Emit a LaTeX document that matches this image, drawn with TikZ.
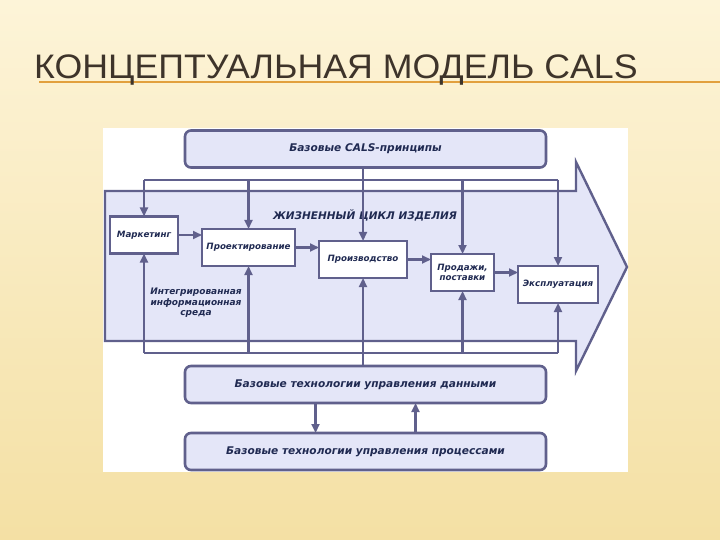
\documentclass[tikz,border=0pt]{standalone}
\usepackage{fontspec}
\usetikzlibrary{positioning,arrows.meta,shapes}
\newfontfamily\headfont{Liberation Sans}
\newfontfamily\diafont{DejaVu Sans}
\definecolor{linecol}{RGB}{96,96,140}
\definecolor{fillcol}{RGB}{228,230,248}
\definecolor{textcol}{RGB}{32,42,82}
\definecolor{headcol}{RGB}{62,52,42}
\definecolor{rulecol}{RGB}{226,160,62}

\begin{document}
\begin{tikzpicture}[x=1pt,y=-1pt,
  base/.style={draw=linecol, line width=2.6pt, outer sep=0pt, text=textcol, align=center,
    font=\diafont\bfseries\itshape\fontsize{10.6}{12}\selectfont},
  block/.style={base, rectangle, rounded corners=6pt, fill=fillcol,
    minimum width=361pt, minimum height=37pt},
  stage/.style={base, rectangle, fill=white, minimum height=37pt, inner sep=2pt,
    font=\diafont\bfseries\itshape\fontsize{8.7}{10.5}\selectfont},
  wire/.style={draw=linecol, line width=2.2pt},
  flow/.style={wire, -{Triangle[length=9pt,width=8pt]}},
  caption/.style={text=textcol, align=center}]
\useasboundingbox (0,0) rectangle (720,540);
\shade[top color={rgb,255:red,253;green,244;blue,216}, bottom color={rgb,255:red,244;green,224;blue,164}]
  (0,0) rectangle (720,540);

% title
\draw[rulecol, line width=1.5pt] (39,82) -- (720,82);
\node[anchor=base west, inner sep=0pt, text=headcol, font=\headfont\fontsize{34}{38}\selectfont]
  (title) at (34,79) {\scalebox{1.05}[1]{КОНЦЕПТУАЛЬНАЯ МОДЕЛЬ CALS}};

\fill[white] (103,128) rectangle (628,472);

% life cycle arrow
\draw[fill=fillcol, draw=linecol, line width=2.4pt, line join=miter]
  (105,191) -- (576,191) -- (576,162) -- (627,267) -- (576,371) -- (576,341) -- (105,341) -- cycle;

\node[block] (cals) at (365.5,149) {Базовые CALS-принципы};
\node[block] (data) at (365.5,384.5) {Базовые технологии управления данными};
\node[block, below=30pt of data] (proc) {Базовые технологии управления процессами};

\node[stage, minimum width=68pt] (mark) at (144,235) {Маркетинг};
\node[stage, minimum width=93pt, right=24pt of mark, yshift=-12.5pt] (proj) {Проектирование};
\node[stage, minimum width=88pt, right=24pt of proj, yshift=-12pt] (prod) {Производство};
\node[stage, minimum width=63pt, right=24pt of prod, yshift=-13pt] (sale) {Продажи,\\поставки};
\node[stage, minimum width=80pt, right=24pt of sale, yshift=-12pt] (expl) {Эксплуатация};

\node[caption, font=\diafont\bfseries\itshape\fontsize{10.5}{12}\selectfont] (cycle) at (365,215)
  {ЖИЗНЕННЫЙ ЦИКЛ ИЗДЕЛИЯ};
\node[caption, font=\diafont\bfseries\itshape\fontsize{9}{10.5}\selectfont] (env) at (196,303)
  {Интегрированная\\информационная\\среда};

\coordinate (bustop) at (0,180);
\coordinate (busbot) at (0,353);

% principles to stages
\draw[flow] (cals.south -| prod.north) -- (prod.north);
\draw[wire] (mark.north |- bustop) -- (expl.north |- bustop);
\foreach \n in {mark,proj,sale,expl}
  \draw[flow] (\n.north |- bustop) -- (\n.north);

% data to stages
\draw[flow] (data.north -| prod.south) -- (prod.south);
\draw[wire] (mark.south |- busbot) -- (expl.south |- busbot);
\foreach \n in {mark,proj,sale,expl}
  \draw[flow] (\n.south |- busbot) -- (\n.south);

% stage order
\draw[flow] (mark.east) -- (mark.east -| proj.west);
\draw[flow] (proj.east) -- (proj.east -| prod.west);
\draw[flow] (prod.east) -- (prod.east -| sale.west);
\draw[flow] (sale.east) -- (sale.east -| expl.west);

\draw[flow] ([xshift=-50pt]data.south) -- ([xshift=-50pt]data.south |- proc.north);
\draw[flow] ([xshift=50pt]proc.north) -- ([xshift=50pt]proc.north |- data.south);
\end{tikzpicture}
\end{document}
